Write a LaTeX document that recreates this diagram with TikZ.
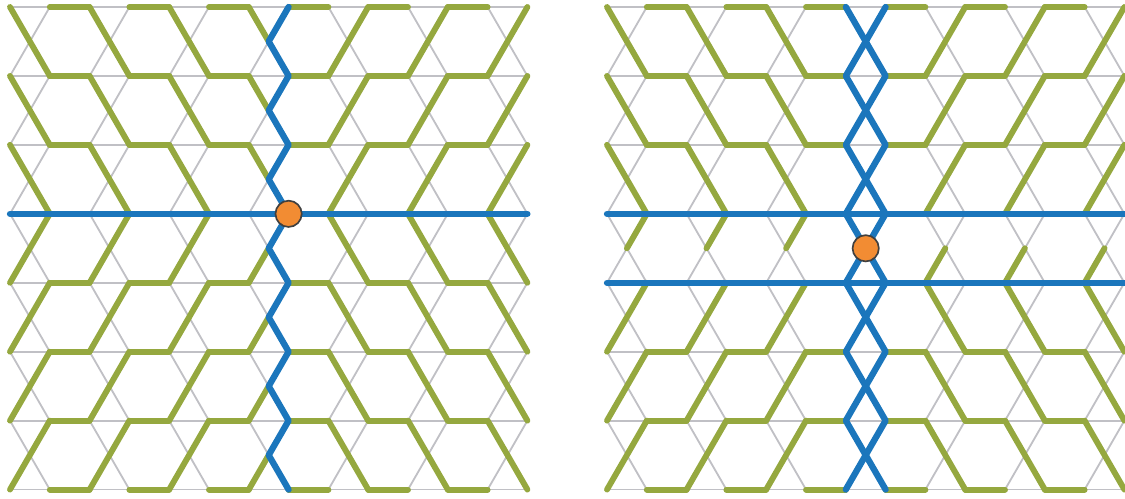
\documentclass[tikz,border=0pt]{standalone}
\definecolor{latgrey}{HTML}{C0C0C5}
\definecolor{loopgreen}{HTML}{95A83F}
\definecolor{stringblue}{HTML}{1B76BC}
\definecolor{vortexorange}{HTML}{F28C33}
\tikzset{
  gridline/.style={latgrey, line width=1.3pt},
  greenpath/.style={loopgreen, line width=4.2pt, line cap=round, line join=round},
  bluepath/.style={stringblue, line width=4.5pt, line cap=round, line join=round},
  vortex/.style={fill=vortexorange, draw=black!75, line width=1.2pt}
}
\begin{document}
\begin{tikzpicture}[x=1cm, y=1.7320508cm]
    % Fix the frame (both panels, margins included)
    \useasboundingbox (-0.251cm, 0.176cm) rectangle (28.015cm, -12.337cm);

    % Grey lattice in both panels: rows plus crossed diagonals
    \foreach \s in {0,15} {
      \foreach \r in {0,...,7} \draw[gridline] (\s,-\r) -- (\s+13,-\r);
      \foreach \r in {0,...,6}
        \foreach \k in {0,...,6} {
          \draw[gridline] ({\s+2*\k},-\r) -- ({\s+2*\k+1},{-\r-1});
          \draw[gridline] ({\s+2*\k},{-\r-1}) -- ({\s+2*\k+1},-\r);
        }
    }

    % Left panel: green horizontals (row 3 is taken by the string)
    \foreach \r in {0,1,2,4,5,6,7}
      \foreach \j in {1,3,...,11} \draw[greenpath] (\j,-\r) -- (\j+1,-\r);
    % Left panel: green diagonals, left of the string
    \foreach \k in {0,1,2} {
      \foreach \r in {0,1,2} \draw[greenpath] ({2*\k},-\r) -- ({2*\k+1},{-\r-1});
      \foreach \r in {3,...,6} \draw[greenpath] ({2*\k},{-\r-1}) -- ({2*\k+1},-\r);
    }
    % Left panel: green diagonals, right of the string
    \foreach \k in {4,5,6} {
      \foreach \r in {0,1,2} \draw[greenpath] ({2*\k},{-\r-1}) -- ({2*\k+1},-\r);
      \foreach \r in {3,...,6} \draw[greenpath] ({2*\k},-\r) -- ({2*\k+1},{-\r-1});
    }
    \foreach \r in {0,1,2} \draw[greenpath] (6,-\r) -- (6.5,{-\r-0.5});% stubs into the string
    \foreach \r in {3,...,6} \draw[greenpath] (6,{-\r-1}) -- (6.5,{-\r-0.5});

    % Left panel: blue strings and the defect
    \draw[bluepath] (0,-3) -- (13,-3);
    \draw[bluepath] (7,0) \foreach \r in {0,...,6} { -- (6.5,{-\r-0.5}) -- (7,{-\r-1}) };
    \coordinate (leftdefect) at (7,-3);
    \draw[vortex] (leftdefect) circle[radius=0.33cm];

    \begin{scope}[xshift=15cm]
      % Right panel: green horizontals (rows 3 and 4 are taken by strings)
      \foreach \r in {0,1,2,5,6,7}
        \foreach \j in {1,3,...,11} \draw[greenpath] (\j,-\r) -- (\j+1,-\r);
      % Right panel: green diagonals, left of the strings
      \foreach \k in {0,1,2} {
        \foreach \r in {0,1,2} \draw[greenpath] ({2*\k},-\r) -- ({2*\k+1},{-\r-1});
        \draw[greenpath] ({2*\k+1},-3) -- ({2*\k+0.5},-3.5);
        \foreach \r in {4,5,6} \draw[greenpath] ({2*\k},{-\r-1}) -- ({2*\k+1},-\r);
      }
      % Right panel: green diagonals, right of the strings
      \foreach \k in {4,5,6} {
        \foreach \r in {0,1,2} \draw[greenpath] ({2*\k},{-\r-1}) -- ({2*\k+1},-\r);
        \draw[greenpath] ({2*\k},-4) -- ({2*\k+0.5},-3.5);
        \foreach \r in {4,5,6} \draw[greenpath] ({2*\k},-\r) -- ({2*\k+1},{-\r-1});
      }

      % Right panel: two blue rows, braided blue column and the defect
      \draw[bluepath] (0,-3) -- (13,-3);
      \draw[bluepath] (0,-4) -- (13,-4);
      \draw[bluepath] (6,0) -- (7,-1) -- (6,-2) -- (7,-3) -- (6,-4) -- (7,-5) -- (6,-6) -- (7,-7);
      \draw[bluepath] (7,0) -- (6,-1) -- (7,-2) -- (6,-3) -- (7,-4) -- (6,-5) -- (7,-6) -- (6,-7);
      \coordinate (rightdefect) at (6.5,-3.5);
      \draw[vortex] (rightdefect) circle[radius=0.33cm];
    \end{scope}
\end{tikzpicture}
\end{document}
